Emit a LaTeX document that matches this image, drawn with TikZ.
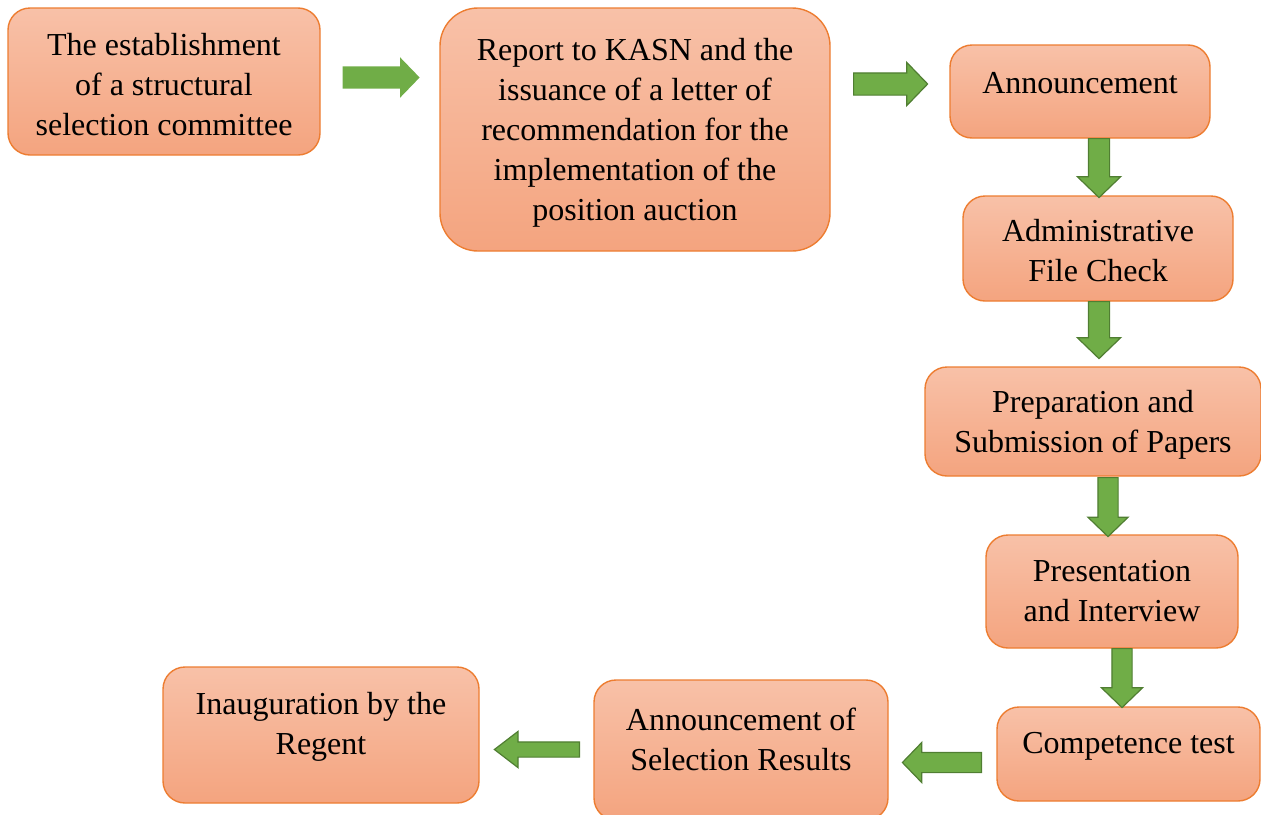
\documentclass[tikz,border=0pt]{standalone}
\usepackage{fontspec}
\setmainfont{Liberation Serif}
\usetikzlibrary{shapes.arrows}

\definecolor{boxtop}{HTML}{F8C1A8}
\definecolor{boxbot}{HTML}{F4A47F}
\definecolor{boxline}{HTML}{ED7D31}
\definecolor{arrfill}{HTML}{70AD47}
\definecolor{arrline}{HTML}{507E32}

\begin{document}
\begin{tikzpicture}[x=0.5pt, y=-0.5pt,
                    stage/.style = {draw=boxline, line width=0.7pt, rounded corners=11pt,
                                    top color=boxtop, bottom color=boxbot},
                    stagetext/.style = {anchor=north, yshift=-13pt, align=center, inner sep=0pt,
                                        font=\fontsize{16}{20}\selectfont},
                    blockarrow/.style = {single arrow, anchor=tail, fill=arrfill, draw=arrline, line width=0.6pt,
                                         inner xsep=0pt, single arrow tip angle=92},
                    plainarrow/.style = {blockarrow, draw=none}]
        \useasboundingbox (0,0) rectangle (1261,814);
        % stages
        \node[stage, minimum width=156pt, minimum height=73.5pt] (est) at (164,81.5) {};
        \node[stage, minimum width=195pt, minimum height=121.5pt, rounded corners=19pt] (rep) at (635,129.5) {};
        \node[stage, minimum width=130pt, minimum height=46.5pt] (ann) at (1080,91.5) {};
        \node[stage, minimum width=135pt, minimum height=52.5pt] (adm) at (1098,248.5) {};
        \node[stage, minimum width=168pt, minimum height=54.5pt] (prep) at (1093,421.5) {};
        \node[stage, minimum width=126pt, minimum height=56.5pt] (pres) at (1112,591.5) {};
        \node[stage, minimum width=131.5pt, minimum height=47pt] (comp) at (1128.5,754) {};
        \node[stage, minimum width=147pt, minimum height=70pt] (res) at (741,750) {};
        \node[stage, minimum width=158pt, minimum height=68pt] (inaug) at (321,735) {};
        % texts, hung from the top of each stage
        \node[stagetext] (est-t) at (est.north) {The establishment\\of a structural\\selection committee};
        \node[stagetext, yshift=-2.5pt] (rep-t) at (rep.north) {Report to KASN and the\\issuance of a letter of\\recommendation for the\\implementation of the\\position auction};
        \node[stagetext, yshift=-1pt] (ann-t) at (ann.north) {Announcement};
        \node[stagetext, yshift=1pt] (adm-t) at (adm.north) {Administrative\\File Check};
        \node[stagetext, yshift=1pt] (prep-t) at (prep.north) {Preparation and\\Submission of Papers};
        \node[stagetext] (pres-t) at (pres.north) {Presentation\\and Interview};
        \node[stagetext] (comp-t) at (comp.north) {Competence test};
        \node[stagetext, yshift=-1pt] (res-t) at (res.north) {Announcement of\\Selection Results};
        \node[stagetext] (inaug-t) at (inaug.north) {Inauguration by the\\Regent};
        % arrows between stages
        \node[plainarrow, minimum height=38.5pt, inner ysep=5.25pt, single arrow head extend=4.5pt] (a1) at (342,77.5) {};
        \node[blockarrow, minimum height=37pt, inner ysep=5.25pt, single arrow head extend=5.25pt] (a2) at (853,84) {};
        \node[blockarrow, rotate=-90, minimum height=29.5pt, inner ysep=5pt, single arrow head extend=5.5pt] (d1) at (1099,138) {};
        \node[blockarrow, rotate=-90, minimum height=28.5pt, inner ysep=5pt, single arrow head extend=5.5pt] (d2) at (1099,301) {};
        \node[blockarrow, rotate=-90, minimum height=29.5pt, inner ysep=4.75pt, single arrow head extend=5pt] (d3) at (1108,477) {};
        \node[blockarrow, rotate=-90, minimum height=29.5pt, inner ysep=4.75pt, single arrow head extend=5.25pt] (d4) at (1122,648) {};
        \node[blockarrow, rotate=180, minimum height=39.5pt, inner ysep=4.75pt, single arrow head extend=5pt] (l1) at (982,762.5) {};
        \node[blockarrow, rotate=180, minimum height=42.5pt, inner ysep=3.5pt, single arrow head extend=5.25pt, single arrow tip angle=75] (l2) at (580,749.5) {};
    \end{tikzpicture}
\end{document}
